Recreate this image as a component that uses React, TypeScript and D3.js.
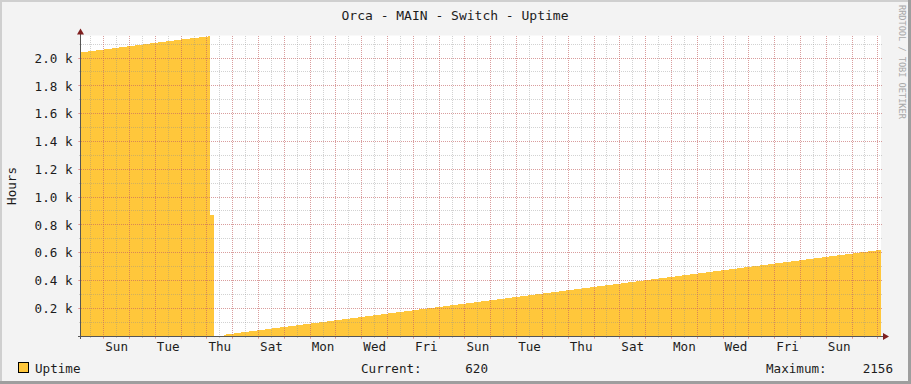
import React from "react";
import * as d3 from "d3";

const W = 911;
const H = 384;

const title = "Orca - MAIN - Switch - Uptime";
const yAxisTitle = "Hours";
const watermark = "RRDTOOL / TOBI OETIKER";

const startTime = "2022-12-31T02:53:00Z";
const endTime = "2023-01-31T02:53:00Z";
const firstLabelNoon = "2023-01-01T12:00:00Z";
const dayLabels = ["Sun", "Tue", "Thu", "Sat", "Mon", "Wed", "Fri", "Sun", "Tue", "Thu", "Sat", "Mon", "Wed", "Fri", "Sun"];

const yTickValues = [200, 400, 600, 800, 1000, 1200, 1400, 1600, 1800, 2000];
const yTickLabels = ["0.2 k", "0.4 k", "0.6 k", "0.8 k", "1.0 k", "1.2 k", "1.4 k", "1.6 k", "1.8 k", "2.0 k"];
const yMax = 2162;

const sampleTimes = [
  "2022-12-31T02:53:00Z", "2023-01-01T00:00:00Z", "2023-01-02T00:00:00Z", "2023-01-03T00:00:00Z",
  "2023-01-04T00:00:00Z", "2023-01-05T02:36:00Z", "2023-01-05T02:36:00Z", "2023-01-05T06:36:00Z",
  "2023-01-05T06:36:00Z", "2023-01-05T16:12:00Z", "2023-01-06T00:00:00Z", "2023-01-07T00:00:00Z",
  "2023-01-08T00:00:00Z", "2023-01-09T00:00:00Z", "2023-01-10T00:00:00Z", "2023-01-11T00:00:00Z",
  "2023-01-12T00:00:00Z", "2023-01-13T00:00:00Z", "2023-01-14T00:00:00Z", "2023-01-15T00:00:00Z",
  "2023-01-16T00:00:00Z", "2023-01-17T00:00:00Z", "2023-01-18T00:00:00Z", "2023-01-19T00:00:00Z",
  "2023-01-20T00:00:00Z", "2023-01-21T00:00:00Z", "2023-01-22T00:00:00Z", "2023-01-23T00:00:00Z",
  "2023-01-24T00:00:00Z", "2023-01-25T00:00:00Z", "2023-01-26T00:00:00Z", "2023-01-27T00:00:00Z",
  "2023-01-28T00:00:00Z", "2023-01-29T00:00:00Z", "2023-01-30T00:00:00Z", "2023-01-31T00:00:00Z",
  "2023-01-31T02:53:00Z",
];
const uptimeValues: (number | null)[] = [
  2040, 2061, 2085, 2109,
  2133, 2156, 870, 870,
  null, 9, 17, 41,
  65, 89, 113, 137,
  161, 185, 209, 233,
  257, 281, 305, 329,
  353, 377, 401, 425,
  449, 473, 497, 521,
  545, 569, 593, 617,
  620,
];

const legendName = "Uptime";
const currentLabel = "Current:";
const currentValue = "620";
const maximumLabel = "Maximum:";
const maximumValue = "2156";

const FONT = "'DejaVu Sans Mono', monospace";
const AREA_COLOR = "#FFC73B";
const MINOR = "rgba(143,143,143,0.4)";
const MAJOR = "rgba(230,70,70,0.38)";
const TEXT = "#1c1c1c";

export default function App() {
  const left = 81, right = 881, top = 35.5, bottom = 336;
  const x = d3.scaleUtc().domain([new Date(startTime), new Date(endTime)]).range([left, right]);
  const y = d3.scaleLinear().domain([0, yMax]).range([bottom, top]);

  const data = sampleTimes.map((t, i) => ({ t: new Date(t), v: uptimeValues[i] }));
  const area = d3
    .area<{ t: Date; v: number | null }>()
    .defined((d) => d.v !== null)
    .x((d) => x(d.t))
    .y0(bottom)
    .y1((d) => y(d.v as number))
    .curve(d3.curveLinear);

  const [d0, d1] = x.domain();
  const minorX = d3.utcHour.every(12)!.range(d0, d1);
  const majorX = d3.utcDay.range(d0, d1);
  const minorY = d3.range(100, yMax, 100);
  const px = (v: number) => Math.floor(v) + 0.5;

  const labelStart = new Date(firstLabelNoon).getTime();

  return (
    <svg width={W} height={H} style={{ display: "block", position: "absolute", left: 0, top: 0 }} fontFamily={FONT}>
      <rect x={0} y={0} width={W} height={H} fill="#F3F3F3" />
      {/* shades */}
      <rect x={0} y={0} width={W} height={2} fill="#CFCFCF" />
      <rect x={0} y={0} width={2} height={H} fill="#CFCFCF" />
      <rect x={W - 3} y={0} width={3} height={H} fill="#9E9E9E" />
      <rect x={0} y={H - 3} width={W} height={3} fill="#9E9E9E" />

      <rect x={left} y={top} width={right - left} height={bottom - top} fill="#FFFFFF" />

      <path d={area(data) || ""} fill={AREA_COLOR} shapeRendering="crispEdges" />

      {/* minor grid */}
      <g stroke={MINOR} strokeWidth={1} strokeDasharray="1,1" shapeRendering="crispEdges">
        {minorX.map((t, i) => (
          <line key={"mx" + i} x1={px(x(t))} x2={px(x(t))} y1={top} y2={bottom} />
        ))}
        {minorY.map((v, i) => (
          <line key={"my" + i} x1={left} x2={right + 2} y1={px(y(v))} y2={px(y(v))} />
        ))}
      </g>
      <g stroke={MINOR} strokeWidth={1} shapeRendering="crispEdges">
        {minorX.map((t, i) => (
          <line key={"mtx" + i} x1={px(x(t))} x2={px(x(t))} y1={bottom} y2={bottom + 2} />
        ))}
        {minorY.map((v, i) => (
          <line key={"mty" + i} x1={left - 2} x2={left} y1={px(y(v))} y2={px(y(v))} />
        ))}
      </g>
      {/* major grid */}
      <g stroke={MAJOR} strokeWidth={1} strokeDasharray="1,1" shapeRendering="crispEdges">
        {majorX.map((t, i) => (
          <line key={"Mx" + i} x1={px(x(t))} x2={px(x(t))} y1={top} y2={bottom} />
        ))}
        {yTickValues.map((v, i) => (
          <line key={"My" + i} x1={left} x2={right + 2} y1={px(y(v))} y2={px(y(v))} />
        ))}
      </g>
      <g stroke={MAJOR} strokeWidth={1} shapeRendering="crispEdges">
        {majorX.map((t, i) => (
          <line key={"Mtx" + i} x1={px(x(t))} x2={px(x(t))} y1={bottom} y2={bottom + 3} />
        ))}
        {yTickValues.map((v, i) => (
          <line key={"Mty" + i} x1={left - 3} x2={left} y1={px(y(v))} y2={px(y(v))} />
        ))}
      </g>

      {/* axes */}
      <g stroke="#555" strokeWidth={1} shapeRendering="crispEdges">
        <line x1={left - 3} x2={right + 3} y1={bottom + 0.5} y2={bottom + 0.5} />
        <line x1={left - 0.5} x2={left - 0.5} y1={top - 4} y2={bottom + 3} />
      </g>
      <path d={`M${left - 4},${top - 1} L${left + 3},${top - 1} L${left - 0.5},${top - 7} Z`} fill="#7F1F1F" />
      <path d={`M${right + 2},${bottom - 3} L${right + 2},${bottom + 4} L${right + 8},${bottom + 0.5} Z`} fill="#7F1F1F" />

      {/* y labels */}
      <g fontSize={12.6} fill={TEXT} textAnchor="end">
        {yTickValues.map((v, i) => (
          <text key={"yl" + i} x={72.5} y={y(v) + 4.8}>
            {yTickLabels[i]}
          </text>
        ))}
      </g>
      {/* x labels */}
      <g fontSize={12.6} fill={TEXT} textAnchor="middle">
        {dayLabels.map((lab, i) => (
          <text key={"xl" + i} x={x(new Date(labelStart + i * 2 * 86400000))} y={351}>
            {lab}
          </text>
        ))}
      </g>

      <text x={15.5} y={186} fontSize={12.6} fill={TEXT} textAnchor="middle" transform="rotate(-90 15.5 186)">
        {yAxisTitle}
      </text>
      <text x={455} y={19.5} fontSize={13} textAnchor="middle" fill={TEXT}>
        {title}
      </text>
      <text x={899} y={5} fontSize={8.6} fill="#A8A8A8" transform="rotate(90 899 5)">
        {watermark}
      </text>

      {/* legend */}
      <rect x={18.5} y={362.5} width={10} height={10} fill={AREA_COLOR} stroke="#000" strokeWidth={1} shapeRendering="crispEdges" />
      <g fontSize={12.6} fill={TEXT}>
        <text x={35} y={373}>{legendName}</text>
        <text x={361} y={373}>{currentLabel}</text>
        <text x={488} y={373} textAnchor="end">{currentValue}</text>
        <text x={766} y={373}>{maximumLabel}</text>
        <text x={893} y={373} textAnchor="end">{maximumValue}</text>
      </g>
    </svg>
  );
}
